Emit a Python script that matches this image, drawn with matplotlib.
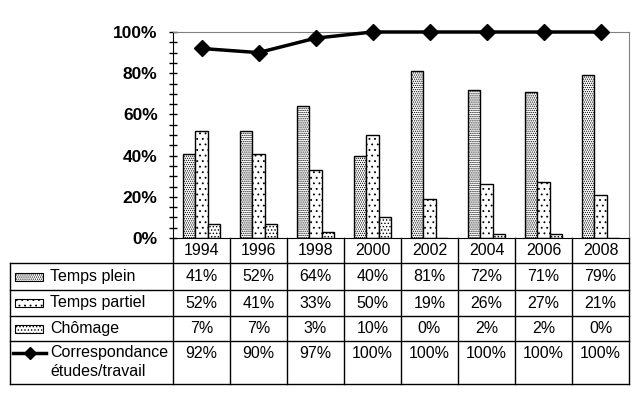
import matplotlib.pyplot as plt
import matplotlib.transforms as mtransforms
from matplotlib.patches import Rectangle
from matplotlib.lines import Line2D
import numpy as np

plt.rcParams['font.family'] = ['Liberation Sans', 'DejaVu Sans']
plt.rcParams['hatch.linewidth'] = 0.6

years = ['1994', '1996', '1998', '2000', '2002', '2004', '2006', '2008']
plein = [41, 52, 64, 40, 81, 72, 71, 79]
partiel = [52, 41, 33, 50, 19, 26, 27, 21]
chomage = [7, 7, 3, 10, 0, 2, 2, 0]
corresp = [92, 90, 97, 100, 100, 100, 100, 100]

series = [('Temps plein', plein, '........'),
          ('Temps partiel', partiel, '...'),
          ('Chômage', chomage, '.....')]

fig = plt.figure(figsize=(6.39, 3.99), dpi=100)
ax = fig.add_axes([173 / 639, 1 - 238 / 399, 456 / 639, 206 / 399])

x = np.arange(len(years))
w = 0.22
for i, (name, vals, hatch) in enumerate(series):
    ax.bar(x + (i - 1) * w, vals, w, facecolor='white', edgecolor='black',
           hatch=hatch, linewidth=1)
ax.plot(x, corresp, color='black', lw=2.5, marker='D', markersize=8, clip_on=False, zorder=5)

ax.set_xlim(-0.5, 7.5)
ax.set_ylim(0, 100)
ax.set_xticks([])
ax.set_yticks(range(0, 101, 20))
ax.set_yticks(range(0, 101, 5), minor=True)
ax.set_yticklabels([f'{v}%' for v in range(0, 101, 20)], fontsize=12.5, fontweight='bold')
ax.tick_params(axis='y', which='both', direction='inout', length=6, width=1, pad=8)
ax.spines['top'].set_color('#808080')
ax.spines['right'].set_color('#808080')

# table below the plot
tr = mtransforms.blended_transform_factory(ax.transData, ax.transAxes)
px = 1 / 206
rows = [0, -25 * px, -52 * px, -78 * px, -103 * px, -146 * px]
left = -3.36
right = 7.5

# header row verticals
for k in range(len(years) + 1):
    ax.add_line(Line2D([k - 0.5, k - 0.5], [rows[0], rows[-1]], transform=tr,
                       color='black', lw=1, clip_on=False))
for r in rows[1:]:
    ax.add_line(Line2D([left, right], [r, r], transform=tr, color='black', lw=1, clip_on=False))
ax.add_line(Line2D([left, left], [rows[1], rows[-1]], transform=tr, color='black', lw=1, clip_on=False))

for k, yr in enumerate(years):
    ax.text(k, (rows[0] + rows[1]) / 2, yr, transform=tr, ha='center', va='center', fontsize=11.5)

all_rows = [s[1] for s in series] + [corresp]
for j, vals in enumerate(all_rows):
    if j < 3:
        yc = (rows[j + 1] + rows[j + 2]) / 2
    else:
        yc = rows[4] - 12 * px
    for k, v in enumerate(vals):
        ax.text(k, yc, f'{v}%', transform=tr, ha='center', va='center', fontsize=11.5)

tx = -2.66
for j, (name, vals, hatch) in enumerate(series):
    yc = (rows[j + 1] + rows[j + 2]) / 2
    ax.add_patch(Rectangle((-3.27, yc - 4 * px), 0.49, 8 * px, transform=tr, facecolor='white',
                           edgecolor='black', hatch=hatch, lw=0.8, clip_on=False))
    ax.text(tx, yc, name, transform=tr, ha='left', va='center', fontsize=11.5)

yc = rows[4] - 12 * px
ax.add_line(Line2D([-3.31, -2.72], [yc, yc], transform=tr, color='black', lw=2.5, clip_on=False))
ax.add_line(Line2D([-3.015], [yc], transform=tr, color='black', marker='D', markersize=6, clip_on=False))
ax.text(tx, yc, 'Correspondance', transform=tr, ha='left', va='center', fontsize=11.5)
ax.text(tx, rows[4] - 31 * px, 'études/travail', transform=tr, ha='left', va='center', fontsize=11.5)

fig.savefig('out.png', dpi=100)
